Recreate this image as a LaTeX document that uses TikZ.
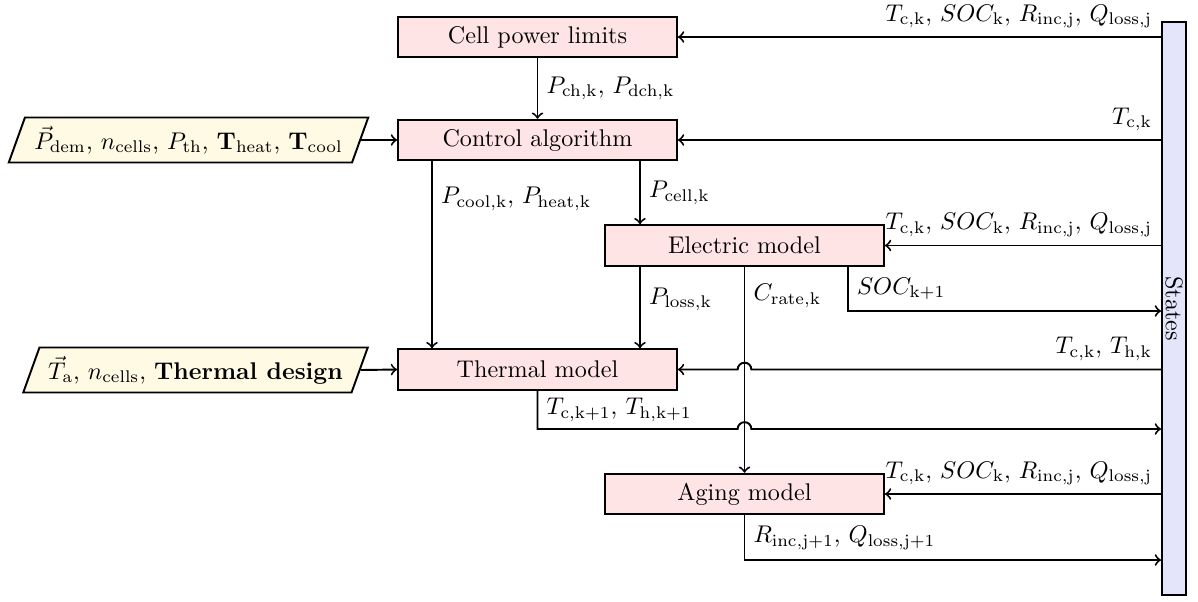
\documentclass[tikz,border=0pt]{standalone}
\usepackage{amsmath}
\usepackage{amsfonts}
\usepackage{graphicx}
\usetikzlibrary{shapes.geometric}

\definecolor{incol}{RGB}{255,250,228}
\definecolor{blockcol}{RGB}{255,228,230}
\definecolor{statecol}{RGB}{228,228,250}

\begin{document}
\begin{tikzpicture}[x=0.01456cm, y=-0.01456cm,
		block/.style={draw, thick, fill=blockcol, minimum width=4.06cm, minimum height=0.59cm},
		inbox/.style={draw, thick, fill=incol, trapezium, trapezium left angle=70, trapezium right angle=110, trapezium stretches=true, minimum height=0.655cm},
		flow/.style={thick, ->},
		stlbl/.style={pos=0, anchor=south east}]
		\useasboundingbox (0,0) rectangle (1198,601);
		\node[block] (cpl) at (537.5,37) {Cell power limits};
		\node[block] (ca) at (537.5,140) {Control algorithm};
		\node[block] (em) at (744.5,245.5) {Electric model};
		\node[block] (tm) at (537.5,369.5) {Thermal model};
		\node[block] (am) at (744.5,494) {Aging model};
		\node[draw, thick, fill=statecol, minimum width=0.35cm, minimum height=8.34cm, inner sep=0pt] (st) at (1174,308.5) {\rotatebox{-90}{States}};
		\node[inbox, minimum width=5.24cm] (in1) at (188.5,140) {$\vec{P}_{\mathrm{dem}}$, $n_{\mathrm{cells}}$, $P_{\mathrm{th}}$, $\mathbf{T}_{\mathrm{heat}}$, $\mathbf{T}_{\mathrm{cool}}$};
		\node[inbox, minimum width=5.02cm] (in2) at (195.5,370) {$\vec{T}_{\mathrm{a}}$, $n_{\mathrm{cells}}$, \textbf{Thermal design}};
		\coordinate (xa) at (432,0);
		\coordinate (xb) at (640,0);
		\coordinate (xd) at (848,0);
		\coordinate (rsoc) at (0,311);
		\coordinate (rth) at (0,429);
		\coordinate (rag) at (0,560);
		\draw[flow] (st.west |- cpl.east) -- node[stlbl] {$T_{\mathrm{c,k}}$, $SOC_{\mathrm{k}}$, $R_{\mathrm{inc,j}}$, $Q_{\mathrm{loss,j}}$} (cpl.east);
		\draw[flow] (cpl.south) -- node[right] {$P_{\mathrm{ch,k}}$, $P_{\mathrm{dch,k}}$} (ca.north);
		\draw[flow] (st.west |- ca.east) -- node[stlbl] {$T_{\mathrm{c,k}}$} (ca.east);
		\draw[flow] (in1.east) -- (ca.west);
		\draw[flow] (ca.south -| xa) -- node[pos=0.2, right] {$P_{\mathrm{cool,k}}$, $P_{\mathrm{heat,k}}$} (tm.north -| xa);
		\draw[flow] (ca.south -| xb) -- node[right] {$P_{\mathrm{cell,k}}$} (em.north -| xb);
		\draw[flow] (st.west |- em.east) -- node[stlbl] {$T_{\mathrm{c,k}}$, $SOC_{\mathrm{k}}$, $R_{\mathrm{inc,j}}$, $Q_{\mathrm{loss,j}}$} (em.east);
		\draw[flow] (em.south -| xb) -- node[pos=0.4, right] {$P_{\mathrm{loss,k}}$} (tm.north -| xb);
		\draw[flow] (em.south) -- node[pos=0.14, right] {$C_{\mathrm{rate,k}}$} (am.north);
		\draw[flow] (em.south -| xd) |- node[pos=0.25, right] {$SOC_{\mathrm{k+1}}$} (st.west |- rsoc);
		\draw[flow] (st.west |- tm.east) -- node[stlbl] {$T_{\mathrm{c,k}}$, $T_{\mathrm{h,k}}$} ([xshift=0.1cm]em.south |- tm.east) arc[start angle=0, end angle=180, radius=0.1cm] -- (tm.east);
		\draw[flow] (in2.east) -- (tm.west);
		\draw[flow] (tm.south) |- node[pos=0.25, right] {$T_{\mathrm{c,k+1}}$, $T_{\mathrm{h,k+1}}$} ([xshift=-0.1cm]em.south |- rth) arc[start angle=180, end angle=0, radius=0.1cm] -- (st.west |- rth);
		\draw[flow] (st.west |- am.east) -- node[stlbl] {$T_{\mathrm{c,k}}$, $SOC_{\mathrm{k}}$, $R_{\mathrm{inc,j}}$, $Q_{\mathrm{loss,j}}$} (am.east);
		\draw[flow] (am.south) |- node[pos=0.25, right] {$R_{\mathrm{inc,j+1}}$, $Q_{\mathrm{loss,j+1}}$} (st.west |- rag);
\end{tikzpicture}
\end{document}
